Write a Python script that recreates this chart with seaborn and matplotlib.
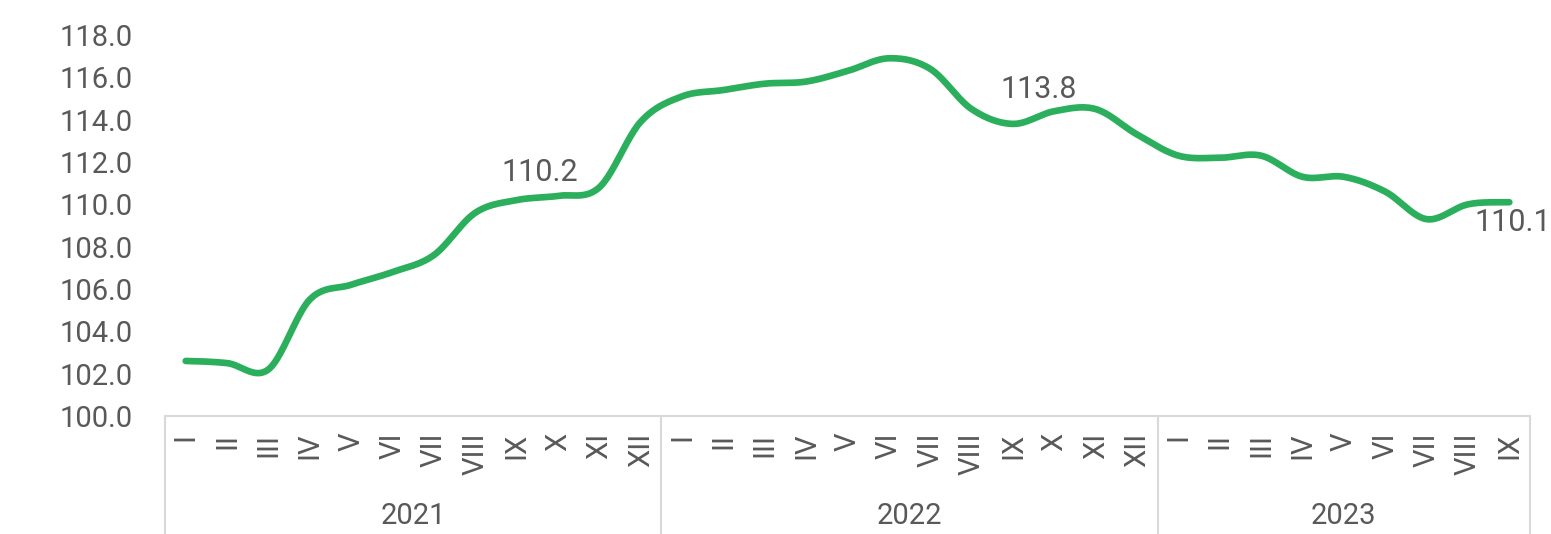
import numpy as np
import matplotlib
matplotlib.use("Agg")
import matplotlib.pyplot as plt
import matplotlib.transforms as mtransforms
import seaborn as sns

# данные: индекс по месяцам
years = ["2021", "2022", "2023"]
months = ["I", "II", "III", "IV", "V", "VI", "VII", "VIII", "IX", "X", "XI", "XII"]
values_2021 = [102.6, 102.5, 102.2, 105.5, 106.2, 106.8, 107.6, 109.6, 110.2, 110.4, 110.8, 113.9]
values_2022 = [115.1, 115.4, 115.7, 115.8, 116.3, 116.9, 116.4, 114.5, 113.8, 114.4, 114.5, 113.3]
values_2023 = [112.3, 112.2, 112.3, 111.3, 111.3, 110.6, 109.3, 110.0, 110.1]
labelled_idx = [8, 20, 32]

series = [values_2021, values_2022, values_2023]
values = np.concatenate(series)
tick_labels = [months[i] for s in series for i in range(len(s))]


def smooth(y, n=24):
    # сглаживание как в Excel (Безье по соседним точкам)
    y = np.asarray(y, float)
    p = np.concatenate([[y[0]], y, [y[-1]]])
    t = np.linspace(0, 1, n, endpoint=False)
    xs, ys = [], []
    for i in range(len(y) - 1):
        p0, p1, p2, p3 = p[i], p[i + 1], p[i + 2], p[i + 3]
        c1 = p1 + (p2 - p0) / 6
        c2 = p2 - (p3 - p1) / 6
        b = (1 - t) ** 3 * p1 + 3 * (1 - t) ** 2 * t * c1 + 3 * (1 - t) * t ** 2 * c2 + t ** 3 * p2
        xs.append(i + t)
        ys.append(b)
    xs.append([len(y) - 1])
    ys.append([y[-1]])
    return np.concatenate(xs), np.concatenate(ys)


sns.set_style("white")
plt.rcParams['font.family'] = ['Roboto', 'DejaVu Sans']
text_color = '#595959'
grid_color = '#D9D9D9'

fig = plt.figure(figsize=(15.51, 5.34), dpi=100)
ax = fig.add_axes([165 / 1551, 1 - 416 / 534, 1365 / 1551, 381 / 534])

xs, ys = smooth(values)
sns.lineplot(x=xs, y=ys, ax=ax, color='#2BAF5C', linewidth=4.8,
             estimator=None, solid_capstyle='round')

ax.set_xlim(-0.5, len(values) - 0.5)
ax.set_ylim(100, 118)
ax.set_yticks(np.arange(100, 118.1, 2))
ax.set_yticklabels([f"{v:.1f}" for v in np.arange(100, 118.1, 2)])
ax.set_xticks(range(len(values)))
ax.set_xticklabels(tick_labels, rotation=90, va='top', ha='center')
ax.tick_params(axis='y', length=0, pad=23, labelsize=21, labelcolor=text_color)
ax.tick_params(axis='x', length=0, pad=12, labelsize=21, labelcolor=text_color)

for side in ['top', 'right', 'left']:
    ax.spines[side].set_visible(False)
ax.spines['bottom'].set_color(grid_color)
ax.spines['bottom'].set_linewidth(1.5)

# группировка по годам
trans = mtransforms.blended_transform_factory(ax.transData, ax.transAxes)
start = 0
edges = [-0.5]
for year, s in zip(years, series):
    end = start + len(s)
    edges.append(end - 0.5)
    ax.text((start + end - 1) / 2, -0.262, year, transform=trans, ha='center',
            va='center', fontsize=21, color=text_color)
    start = end
for e in edges:
    ax.plot([e, e], [0, -0.35], transform=trans, color=grid_color,
            linewidth=1.5, clip_on=False)

# подписи значений
offsets = {8: (23, 28), 20: (26, 34), 32: (3, -20)}
for i in labelled_idx:
    ax.annotate(f"{values[i]:.1f}", (i, values[i]), xytext=offsets[i],
                textcoords='offset pixels', ha='center', va='center',
                fontsize=22, color=text_color, annotation_clip=False)

fig.savefig("out.png", dpi=100)
